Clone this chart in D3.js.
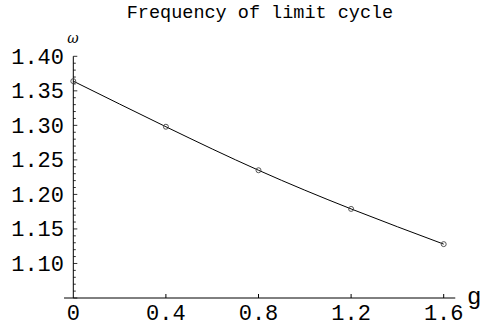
<!DOCTYPE html>
<html>
<head>
<meta charset="utf-8">
<script src="https://cdn.jsdelivr.net/npm/d3@7"></script>
<style>
  body { margin: 0; background: #fff; }
  text { font-family: "Courier New", "Liberation Mono", monospace; fill: #000; }
</style>
</head>
<body>
<svg id="chart" width="482" height="327"></svg>
<script>
// data
var gValues = [0, 0.4, 0.8, 1.2, 1.6];
var omegaValues = [1.364, 1.298, 1.235, 1.179, 1.128];
var xTicks = [0, 0.4, 0.8, 1.2, 1.6];
var xTickLabels = ["0", "0.4", "0.8", "1.2", "1.6"];
var yTicks = [1.10, 1.15, 1.20, 1.25, 1.30, 1.35, 1.40];
var yTickLabels = ["1.10", "1.15", "1.20", "1.25", "1.30", "1.35", "1.40"];

var svg = d3.select("#chart");

var x = d3.scaleLinear().domain([0, 1.6]).range([73.3, 443.7]);
var y = d3.scaleLinear().domain([1.05, 1.40]).range([298, 56.3]);

var pts = gValues.map((g, i) => ({g: g, w: omegaValues[i]}));

// title
svg.append("text")
    .attr("x", 260).attr("y", 18)
    .attr("text-anchor", "middle")
    .style("font-size", "18.5px")
    .text("Frequency of limit cycle");

// x axis
svg.append("line")
    .attr("x1", x(-0.04)).attr("x2", x(1.65))
    .attr("y1", y(1.05)).attr("y2", y(1.05))
    .attr("stroke", "#000").attr("stroke-width", 1);

svg.selectAll(".xtick")
  .data(xTicks.slice(1))
  .enter().append("line")
    .attr("x1", d => x(d)).attr("x2", d => x(d))
    .attr("y1", y(1.05)).attr("y2", y(1.05) - 4)
    .attr("stroke", "#000");

svg.selectAll(".xlabel")
  .data(xTicks)
  .enter().append("text")
    .attr("x", d => x(d)).attr("y", 320)
    .attr("text-anchor", "middle")
    .style("font-size", "22px")
    .text((d, i) => xTickLabels[i]);

// y axis
svg.append("line")
    .attr("x1", x(0)).attr("x2", x(0))
    .attr("y1", y(1.05)).attr("y2", y(1.40))
    .attr("stroke", "#000");

var minor = d3.range(105, 141).map(v => v / 100);
svg.selectAll(".ytick")
  .data(minor)
  .enter().append("line")
    .attr("x1", x(0))
    .attr("x2", d => x(0) + (Math.round(d * 100) % 5 === 0 ? 4 : 2.5))
    .attr("y1", d => y(d)).attr("y2", d => y(d))
    .attr("stroke", "#000").attr("stroke-width", 0.8);

svg.selectAll(".ylabel")
  .data(yTicks)
  .enter().append("text")
    .attr("x", 64).attr("y", d => y(d) + 7.5)
    .attr("text-anchor", "end")
    .style("font-size", "22px")
    .text((d, i) => yTickLabels[i]);

// axis labels
svg.append("text")
    .attr("x", 73).attr("y", 43)
    .attr("text-anchor", "middle")
    .style("font-family", "'DejaVu Serif', serif")
    .style("font-style", "italic")
    .style("font-size", "14px")
    .text("ω");

svg.append("text")
    .attr("x", 467).attr("y", 304)
    .style("font-size", "24px")
    .text("g");

// curve and markers
var line = d3.line()
    .x(d => x(d.g))
    .y(d => y(d.w))
    .curve(d3.curveNatural);

svg.append("path")
    .datum(pts)
    .attr("d", line)
    .attr("fill", "none")
    .attr("stroke", "#000")
    .attr("stroke-width", 1);

svg.selectAll(".pt")
  .data(pts)
  .enter().append("circle")
    .attr("cx", d => x(d.g)).attr("cy", d => y(d.w))
    .attr("r", 2.5)
    .attr("fill", "none")
    .attr("stroke", "#444")
    .attr("stroke-width", 0.9);
</script>
</body>
</html>
